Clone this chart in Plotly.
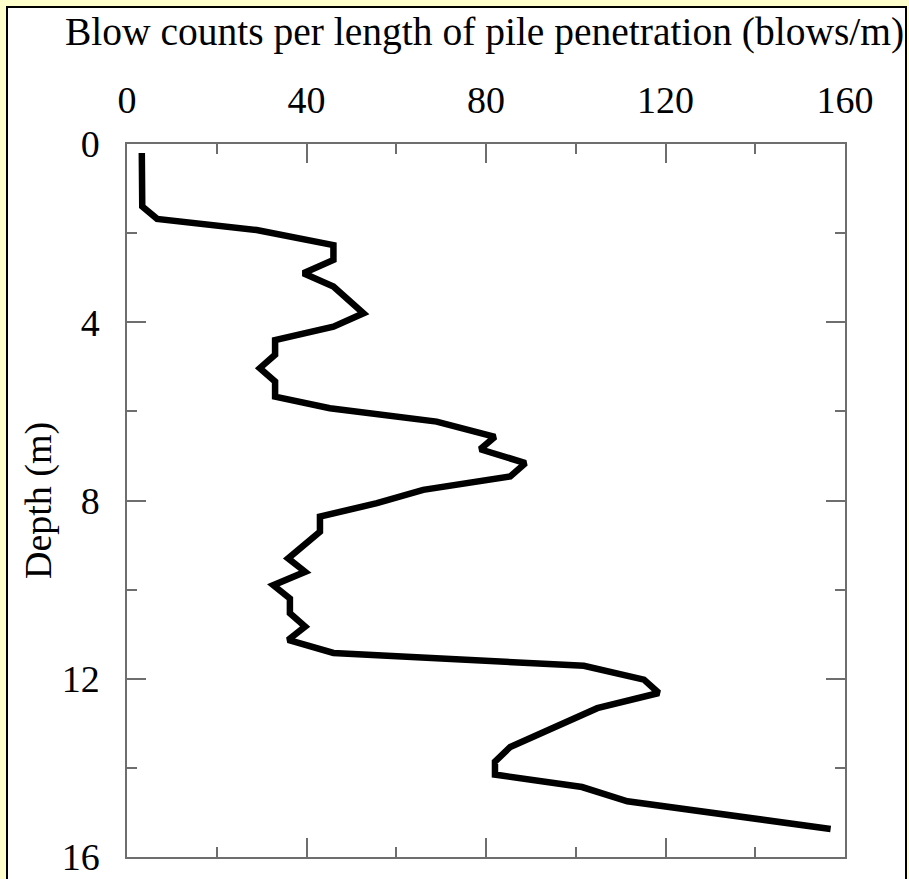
import plotly.graph_objects as go

# Data
blows_per_m = [3.3, 3.4, 6.7, 28.9, 46, 46, 39.3, 46, 52.7, 46, 33, 33, 29.6, 33, 33,
               45.2, 69, 82, 78.7, 88.8, 85.4, 66, 55.7, 43, 43, 35.9, 39.7, 32.6,
               36.3, 36.3, 39.7, 35.9, 46, 101.8, 115.2, 118.5, 104.8, 85.4, 82, 82,
               101.4, 111.5, 156.8]
depth_m = [0.2, 1.4, 1.68, 1.93, 2.27, 2.6, 2.9, 3.2, 3.8, 4.1, 4.4, 4.73, 5.03, 5.33,
           5.67, 5.93, 6.23, 6.57, 6.85, 7.16, 7.46, 7.76, 8.06, 8.36, 8.7, 9.3, 9.6,
           9.9, 10.2, 10.53, 10.83, 11.13, 11.42, 11.71, 12.02, 12.32, 12.66, 13.53,
           13.86, 14.15, 14.43, 14.75, 15.37]

x_tickvals = [0, 40, 80, 120, 160]
y_tickvals = [0, 4, 8, 12, 16]
x_title = "Blow counts per length of pile penetration (blows/m)"
y_title = "Depth (m)"

W, H = 909, 879
L, R, T, B = 127, 64, 144, 22
pw, ph = W - L - R, H - T - B

FONT = "Liberation Serif, Times New Roman, serif"
FS = 38

fig = go.Figure()
fig.add_trace(go.Scatter(
    x=blows_per_m, y=depth_m, mode="lines",
    line=dict(color="black", width=6.5),
    showlegend=False, hoverinfo="skip",
))

def px_x(p):
    return (p - L) / pw

def px_y(p):
    return (H - B - p) / ph

# white framed panel on yellow page
fig.add_shape(type="rect", xref="paper", yref="paper",
              x0=px_x(7), x1=px_x(906), y0=px_y(890), y1=px_y(7),
              fillcolor="white", line=dict(color="black", width=2), layer="below")

# axis titles
fig.add_annotation(text=x_title, xref="paper", yref="paper",
                   x=px_x(484), y=px_y(32), xanchor="center", yanchor="middle",
                   showarrow=False, font=dict(family=FONT, size=39.5, color="black"))
fig.add_annotation(text=y_title, xref="paper", yref="paper", textangle=-90,
                   x=px_x(38), y=px_y(501), xanchor="center", yanchor="middle",
                   showarrow=False, font=dict(family=FONT, size=FS, color="black"))

axis_common = dict(
    showline=True, mirror="allticks", linecolor="#6e6e6e", linewidth=1.5,
    ticks="inside", ticklen=19, tickwidth=1.5, tickcolor="#6e6e6e",
    showgrid=False, zeroline=False, automargin=False,
    tickfont=dict(family=FONT, size=FS, color="black"),
)

fig.update_layout(
    width=W, height=H,
    margin=dict(l=L, r=R, t=T, b=B),
    paper_bgcolor="#FFFFCC",
    plot_bgcolor="white",
    font=dict(family=FONT, size=FS, color="black"),
    xaxis=dict(
        **axis_common,
        side="top", range=[0, 160],
        tickmode="array", tickvals=x_tickvals, ticktext=[str(v) for v in x_tickvals],
        minor=dict(dtick=20, tick0=0, ticks="inside", ticklen=10, tickwidth=1.5,
                   tickcolor="#6e6e6e", showgrid=False),
        ticklabelstandoff=14,
    ),
    yaxis=dict(
        **axis_common,
        range=[16, 0],
        tickmode="array", tickvals=y_tickvals, ticktext=[str(v) for v in y_tickvals],
        minor=dict(dtick=2, tick0=0, ticks="inside", ticklen=10, tickwidth=1.5,
                   tickcolor="#6e6e6e", showgrid=False),
        ticklabelstandoff=18,
    ),
)

fig.write_html(
    "out.html",
    config={"displayModeBar": False},
    post_script="document.body.style.margin='0';document.body.style.background='#FFFFCC';",
)
